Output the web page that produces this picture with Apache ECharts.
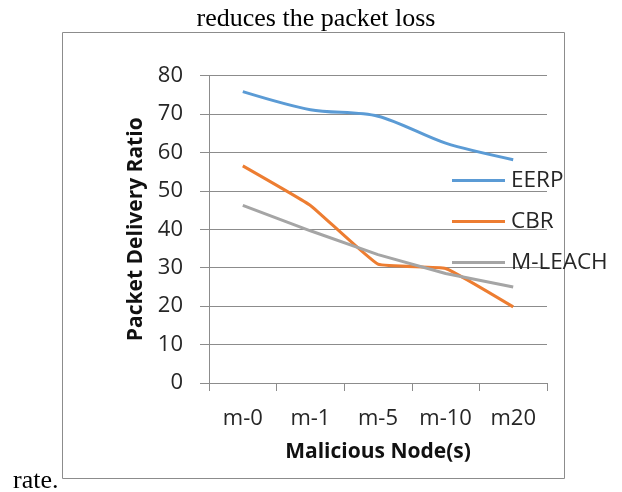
<!DOCTYPE html>
<html><head><meta charset="utf-8">
<script src="https://cdn.jsdelivr.net/npm/echarts@6/dist/echarts.min.js"></script>
<style>html,body{margin:0;padding:0;background:#fff}#c{width:622px;height:492px}</style>
</head><body><div id="c"></div>
<script>
var categories = ['m-0', 'm-1', 'm-5', 'm-10', 'm20'];
var eerp = [75.8, 71.1, 69.4, 62.4, 58.1];
var cbr = [56.5, 46.2, 30.9, 29.8, 19.8];
var mleach = [46.2, 39.6, 33.4, 28.5, 25.0];
var yTicks = [0, 10, 20, 30, 40, 50, 60, 70, 80];

var chart = echarts.init(document.getElementById('c'));
var F = '"Open Sans", sans-serif';
chart.setOption({
  animation: false,
  backgroundColor: '#fff',
  graphic: [
    {type: 'rect', shape: {x: 62.5, y: 32.5, width: 502, height: 446}, style: {fill: 'none', stroke: '#8c8c8c', lineWidth: 1}},
    {type: 'text', x: 316, y: 19, style: {text: 'reduces the packet loss', font: '26px "Liberation Serif", serif', fill: '#000', textAlign: 'center', textVerticalAlign: 'middle'}},
    {type: 'text', x: 13, y: 481, style: {text: 'rate.', font: '26px "Liberation Serif", serif', fill: '#000', textAlign: 'left', textVerticalAlign: 'middle'}}
  ],
  grid: {left: 209, right: 75, top: 75.5, bottom: 109, containLabel: false},
  legend: {
    orient: 'vertical', left: 447, top: 164, itemGap: 18, itemWidth: 53, itemHeight: 3,
    icon: 'rect', itemStyle: {borderWidth: 0},
    textStyle: {fontFamily: F, fontSize: 22.5, color: '#262626', lineHeight: 21, padding: [0,0,0,1]},
    data: ['EERP', 'CBR', 'M-LEACH']
  },
  xAxis: {
    type: 'category', data: categories, boundaryGap: true,
    name: 'Malicious Node(s)', nameLocation: 'middle', nameGap: 59,
    nameTextStyle: {fontFamily: F, fontSize: 21, fontWeight: 'bold', color: '#111'},
    axisLine: {lineStyle: {color: '#8c8c8c', width: 1}},
    axisTick: {show: true, length: 8, interval: 0, lineStyle: {color: '#8c8c8c'}},
    axisLabel: {fontFamily: F, fontSize: 22, color: '#262626', margin: 25, interval: 0, hideOverlap: false}
  },
  yAxis: {
    type: 'value', min: 0, max: 80, interval: 10,
    name: 'Packet Delivery Ratio', nameLocation: 'middle', nameGap: 59, nameRotate: 90,
    nameTextStyle: {fontFamily: F, fontSize: 21, fontWeight: 'bold', color: '#111'},
    axisLine: {show: true, lineStyle: {color: '#8c8c8c', width: 1}},
    axisTick: {show: true, length: 9, inside: false, lineStyle: {color: '#8c8c8c'}},
    splitLine: {lineStyle: {color: '#8c8c8c', width: 1}},
    axisLabel: {fontFamily: F, fontSize: 22, color: '#262626', margin: 26,
      formatter: function (v) { return yTicks.indexOf(v) >= 0 ? String(v) : ''; }}
  },
  series: [
    {name: 'EERP', type: 'line', data: eerp, smooth: 0.3, symbol: 'none', lineStyle: {color: '#5B9BD5', width: 3}, itemStyle: {color: '#5B9BD5'}},
    {name: 'CBR', type: 'line', data: cbr, smooth: 0.1, symbol: 'none', lineStyle: {color: '#ED7D31', width: 3}, itemStyle: {color: '#ED7D31'}},
    {name: 'M-LEACH', type: 'line', data: mleach, smooth: false, symbol: 'none', lineStyle: {color: '#A5A5A5', width: 3}, itemStyle: {color: '#A5A5A5'}}
  ]
});
</script></body></html>
